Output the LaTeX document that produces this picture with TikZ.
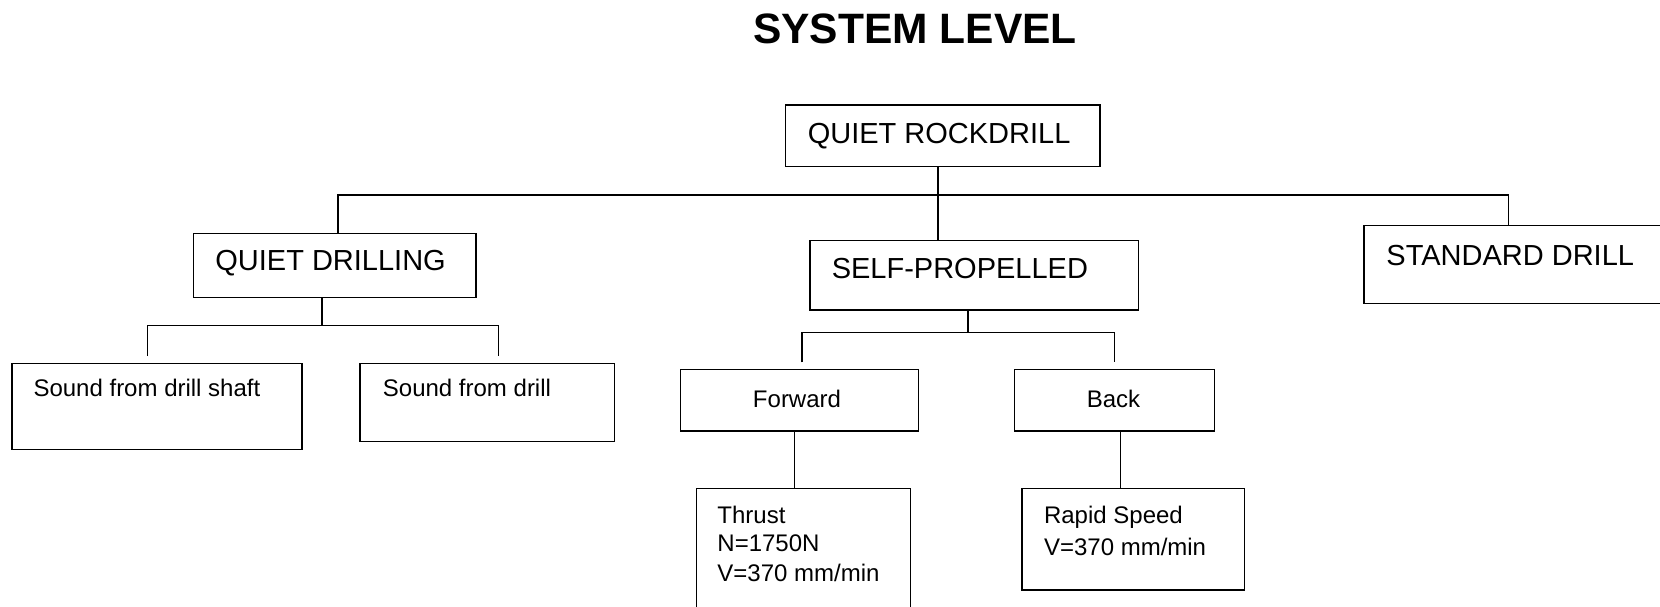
\documentclass[tikz,border=0pt]{standalone}
\usepackage{fontspec}
\setmainfont{Liberation Sans}
\begin{document}
\begin{tikzpicture}[x=1pt,y=-1pt,
  line width=1.5pt,
  box/.style={draw, rectangle, inner sep=0pt, outer sep=0pt, anchor=north west},
  big/.style={inner sep=0pt, anchor=base west, font=\fontsize{29}{35}\selectfont},
  small/.style={inner sep=0pt, anchor=base west, font=\fontsize{24}{29}\selectfont},
  title/.style={inner sep=0pt, anchor=base, font=\fontsize{42.5}{50}\selectfont\bfseries}]
\useasboundingbox (0,0) rectangle (1660,606);

% heading
\node[title] (head) at (915,43) {SYSTEM LEVEL};

% boxes (top-left corner, width, height)
\node[box, minimum width=314.3, minimum height=61.7] (qr) at (785.7,105) {};
\node[box, minimum width=282.4, minimum height=64.4] (qd) at (193.6,233.3) {};
\node[box, minimum width=328.6, minimum height=69.7] (sp) at (809.8,240.3) {};
\node[box, minimum width=320, minimum height=77.6] (sd) at (1364,225.7) {};
\node[box, minimum width=290.4, minimum height=85.6] (shaft) at (11.8,363.7) {};
\node[box, minimum width=254.7, minimum height=78] (drill) at (359.8,363.7) {};
\node[box, minimum width=238, minimum height=61.7] (fwd) at (680.4,369.3) {};
\node[box, minimum width=200, minimum height=61.7] (back) at (1014.3,369.3) {};
\node[box, minimum width=214.3, minimum height=140] (thrust) at (696.3,488.3) {};
\node[box, minimum width=222.5, minimum height=101.7] (rapid) at (1022,488.3) {};

% box texts
\node[big] (tqr) at (807,143.3) {QUIET ROCKDRILL};
\node[big] (tqd) at (214.6,270) {QUIET DRILLING};
\node[big] (tsp) at (831,278.7) {SELF-PROPELLED};
\node[big] (tsd) at (1385.7,265.7) {STANDARD DRILL};
\node[small] (tshaft) at (32.8,396) {Sound from drill shaft};
\node[small] (tdrill) at (382.2,396) {Sound from drill};
\node[small, anchor=base] (tfwd) at (797,407.5) {Forward};
\node[small, anchor=base] (tback) at (1113.5,407.5) {Back};
\node[small] (tth1) at (716.7,523) {Thrust};
\node[small] (tth2) at (716.7,551) {N=1750N};
\node[small] (tth3) at (716.7,581.5) {V=370 mm/min};
\node[small] (trs1) at (1043.3,523) {Rapid Speed};
\node[small] (trs2) at (1043.3,555) {V=370 mm/min};

% top-level bus
\coordinate (rootx) at (938,195);
\coordinate (busL) at (338,195);
\coordinate (busR) at (1508.7,195);
\draw (rootx |- qr.south) -- (rootx |- sp.north);
\draw (busL |- qd.north) -- (busL) -- (busR) -- (busR |- sd.north);

% quiet drilling branch
\coordinate (qdj) at (322,325.7);
\coordinate (qdL) at (147.7,356);
\coordinate (qdR) at (498.3,356);
\draw (qdj |- qd.south) -- (qdj);
\draw (qdL) -- (qdL |- qdj) -- (qdR |- qdj) -- (qdR);

% self-propelled branch
\coordinate (spj) at (968.2,332.3);
\coordinate (spL) at (802,362.3);
\coordinate (spR) at (1114.7,362.3);
\draw (spj |- sp.south) -- (spj);
\draw (spL) -- (spL |- spj) -- (spR |- spj) -- (spR);

% forward / back details
\coordinate (fwdx) at (794.7,0);
\coordinate (backx) at (1120.4,0);
\draw (fwdx |- fwd.south) -- (fwdx |- thrust.north);
\draw (backx |- back.south) -- (backx |- rapid.north);
\end{tikzpicture}
\end{document}
